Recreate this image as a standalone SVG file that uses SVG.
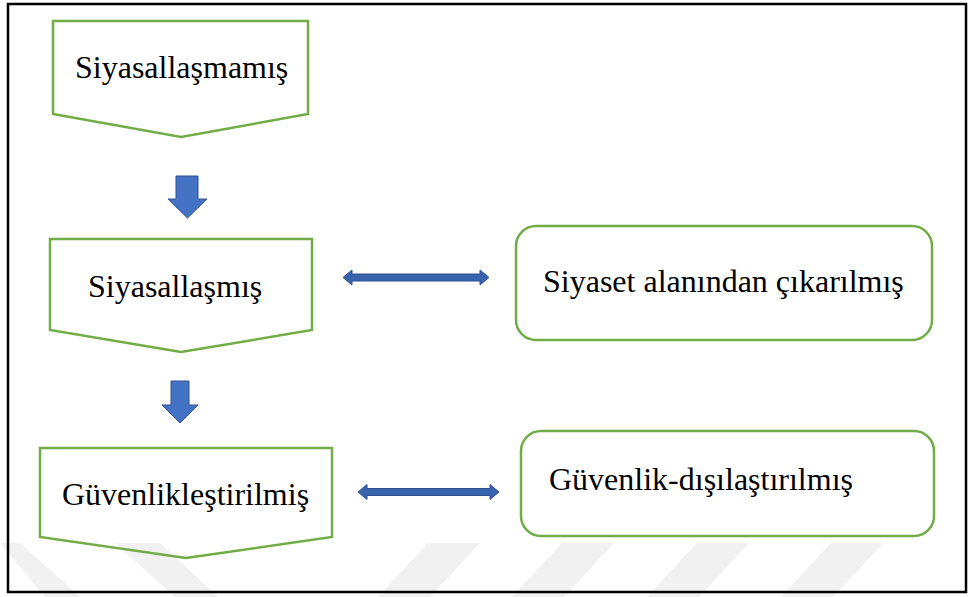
<svg xmlns="http://www.w3.org/2000/svg" width="971" height="597" viewBox="0 0 971 597">
<style>
.node{fill:none;stroke:#70AD47;stroke-width:2.5;stroke-linejoin:miter}
.lbl{font-family:"Liberation Serif","Times New Roman",serif;font-size:32px;fill:#000000}
.blk{fill:#4472C4;stroke:#2F528F;stroke-width:1}
.dbl{fill:#3A63AE;stroke:#2F528F;stroke-width:1}
.wm{fill:#f1f1f1}
</style>
<rect x="0" y="0" width="971" height="597" fill="#ffffff"/>
<g id="watermark">
<polygon class="wm" points="0,543 20,543 80,597 45,597"/>
<polygon class="wm" points="115,543 160,543 218,597 175,597"/>
<polygon class="wm" points="428,543 480,543 430,597 378,597"/>
<polygon class="wm" points="562,543 614,543 564,597 512,597"/>
<polygon class="wm" points="697,543 749,543 699,597 647,597"/>
<polygon class="wm" points="831,543 883,543 833,597 781,597"/>
</g>
<rect id="frame" x="8" y="4" width="958" height="588" fill="none" stroke="#000000" stroke-width="2.5"/>
<g id="node-siyasallasmamis">
<polygon class="node" points="53,21 308,21 308,114 181,137 53,114"/>
<text class="lbl" x="75" y="78">Siyasallaşmamış</text>
</g>
<g id="node-siyasallasmis">
<polygon class="node" points="50,239 312,239 312,330 181,352 50,330"/>
<text class="lbl" x="88" y="297">Siyasallaşmış</text>
</g>
<g id="node-guvenliklestirilmis">
<polygon class="node" points="40,448 332,448 332,537 186,558 40,537"/>
<text class="lbl" x="62" y="505">Güvenlikleştirilmiş</text>
</g>
<g id="node-siyaset-alanindan">
<rect class="node" x="516" y="226" width="416" height="114" rx="20" ry="20"/>
<text class="lbl" x="543" y="292">Siyaset alanından çıkarılmış</text>
</g>
<g id="node-guvenlik-disilastirilmis">
<rect class="node" x="521" y="431" width="413" height="105" rx="20" ry="20"/>
<text class="lbl" x="549" y="490">Güvenlik-dışılaştırılmış</text>
</g>
<g id="connectors">
<polygon class="blk" points="176,176 198,176 198,199 207,199 187.5,218 168,199 176,199"/>
<polygon class="blk" points="171,381 189,381 189,405 198,405 180,423 162,405 171,405"/>
<polygon class="dbl" points="343,277.5 352,270 352,274 480,274 480,270 489,277.5 480,285 480,281 352,281 352,285"/>
<polygon class="dbl" points="358,492 367,484.5 367,488.5 490,488.5 490,484.5 499,492 490,499.5 490,495.5 367,495.5 367,499.5"/>
</g>
</svg>
